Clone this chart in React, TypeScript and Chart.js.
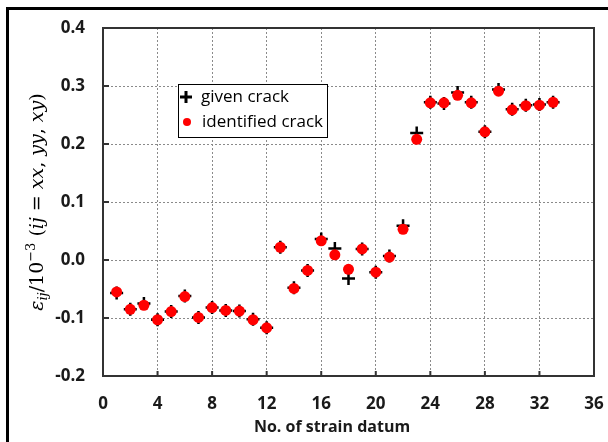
import React, { useEffect, useRef } from "react";
import { Chart, registerables } from "chart.js";

Chart.register(...registerables);

// ---- data ----
const strainNo = [
  1, 2, 3, 4, 5, 6, 7, 8, 9, 10, 11, 12, 13, 14, 15, 16, 17, 18, 19, 20, 21,
  22, 23, 24, 25, 26, 27, 28, 29, 30, 31, 32, 33,
];
const givenCrack = [
  -0.057, -0.085, -0.075, -0.103, -0.089, -0.062, -0.099, -0.082, -0.087,
  -0.088, -0.102, -0.117, 0.022, -0.048, -0.018, 0.036, 0.02, -0.032, 0.019,
  -0.021, 0.007, 0.059, 0.219, 0.272, 0.27, 0.289, 0.272, 0.221, 0.294, 0.26,
  0.267, 0.268, 0.272,
];
const identifiedCrack = [
  -0.055, -0.085, -0.078, -0.103, -0.089, -0.063, -0.099, -0.082, -0.087,
  -0.088, -0.103, -0.117, 0.022, -0.049, -0.018, 0.033, 0.009, -0.016, 0.019,
  -0.021, 0.005, 0.053, 0.208, 0.271, 0.271, 0.284, 0.271, 0.221, 0.291, 0.259,
  0.266, 0.267, 0.272,
];
const xTicks = [0, 4, 8, 12, 16, 20, 24, 28, 32, 36];
const yTicks = [-0.2, -0.1, 0.0, 0.1, 0.2, 0.3, 0.4];
const legendLabels = ["given crack", "identified crack"];
const xTitle = "No. of strain datum";

const SANS = "'Open Sans', 'Noto Sans', sans-serif";
const SERIF = "'DejaVu Serif', serif";

const decorPlugin = {
  id: "decor",
  beforeDraw(chart: any) {
    const { ctx, width, height } = chart;
    ctx.save();
    ctx.fillStyle = "#ffffff";
    ctx.fillRect(0, 0, width, height);
    ctx.fillStyle = "#000000";
    ctx.fillRect(6, 7, width - 6, 3);
    ctx.fillRect(6, 7, 3, height - 7);
    ctx.restore();
  },
  beforeDatasetsDraw(chart: any) {
    const { ctx, chartArea, scales } = chart;
    const { left, right, top, bottom } = chartArea;
    ctx.save();
    ctx.strokeStyle = "#333333";
    ctx.lineWidth = 2;
    ctx.strokeRect(left, top, right - left, bottom - top);
    ctx.beginPath();
    xTicks.forEach((v) => {
      const px = scales.x.getPixelForValue(v);
      ctx.moveTo(px, bottom);
      ctx.lineTo(px, bottom - 5);
    });
    yTicks.forEach((v) => {
      const py = scales.y.getPixelForValue(v);
      ctx.moveTo(left, py);
      ctx.lineTo(left + 6, py);
    });
    ctx.stroke();
    ctx.restore();
  },
  afterDraw(chart: any) {
    const { ctx, chartArea } = chart;
    ctx.save();
    // x title
    ctx.fillStyle = "#1a1a1a";
    ctx.font = `bold 16px ${SANS}`;
    ctx.textAlign = "center";
    ctx.textBaseline = "middle";
    ctx.fillText(xTitle, 332, 427);

    // y title (rotated, mixed fonts)
    const big = 19;
    const small = 13;
    const pieces = [
      { t: "ε", f: `italic ${big}px ${SERIF}`, dy: 0 },
      { t: "ij", f: `italic ${small}px ${SERIF}`, dy: 4 },
      { t: "/10", f: `${big}px ${SERIF}`, dy: 0 },
      { t: "−3", f: `${small}px ${SERIF}`, dy: -8 },
      { t: " (", f: `${big}px ${SERIF}`, dy: 0 },
      { t: "ij", f: `italic ${big}px ${SERIF}`, dy: 0 },
      { t: " = ", f: `${big}px ${SERIF}`, dy: 0 },
      { t: "xx", f: `italic ${big}px ${SERIF}`, dy: 0 },
      { t: ", ", f: `${big}px ${SERIF}`, dy: 0 },
      { t: "yy", f: `italic ${big}px ${SERIF}`, dy: 0 },
      { t: ", ", f: `${big}px ${SERIF}`, dy: 0 },
      { t: "xy", f: `italic ${big}px ${SERIF}`, dy: 0 },
      { t: ")", f: `${big}px ${SERIF}`, dy: 0 },
    ];
    let total = 0;
    const widths = pieces.map((p) => {
      ctx.font = p.f;
      const w = ctx.measureText(p.t).width;
      total += w;
      return w;
    });
    const cy = (chartArea.top + chartArea.bottom) / 2;
    ctx.translate(37, cy);
    ctx.rotate(-Math.PI / 2);
    ctx.textAlign = "left";
    ctx.textBaseline = "alphabetic";
    ctx.fillStyle = "#000000";
    let x = -total / 2;
    pieces.forEach((p, i) => {
      ctx.font = p.f;
      ctx.fillText(p.t, x, 6 + p.dy);
      x += widths[i];
    });
    ctx.restore();

    // legend box
    ctx.save();
    ctx.fillStyle = "#ffffff";
    ctx.fillRect(178, 84, 149, 53);
    ctx.strokeStyle = "#000000";
    ctx.lineWidth = 1;
    ctx.strokeRect(178.5, 84.5, 149, 53);
    ctx.strokeStyle = "#000000";
    ctx.lineWidth = 3;
    ctx.beginPath();
    ctx.moveTo(180, 97);
    ctx.lineTo(192, 97);
    ctx.moveTo(186, 91);
    ctx.lineTo(186, 103);
    ctx.stroke();
    ctx.fillStyle = "#ff0000";
    ctx.beginPath();
    ctx.arc(187, 122, 4, 0, Math.PI * 2);
    ctx.fill();
    ctx.fillStyle = "#000000";
    ctx.font = `17px ${SANS}`;
    ctx.textAlign = "left";
    ctx.textBaseline = "middle";
    ctx.fillText(legendLabels[0], 201, 97);
    ctx.fillText(legendLabels[1], 202, 122);
    ctx.restore();
  },
};

export default function App() {
  const ref = useRef<HTMLCanvasElement | null>(null);

  useEffect(() => {
    if (!ref.current) return;
    const tickFont = { family: SANS, size: 17, weight: "bold" as const };
    const chart = new Chart(ref.current, {
      type: "scatter",
      data: {
        datasets: [
          {
            label: legendLabels[0],
            data: strainNo.map((n, i) => ({ x: n, y: givenCrack[i] })),
            pointStyle: "cross",
            pointRadius: 6.5,
            borderColor: "#000000",
            backgroundColor: "#000000",
            borderWidth: 2.5,
            order: 1,
          },
          {
            label: legendLabels[1],
            data: strainNo.map((n, i) => ({ x: n, y: identifiedCrack[i] })),
            pointStyle: "circle",
            pointRadius: 5.5,
            borderColor: "#ff0000",
            backgroundColor: "#ff0000",
            borderWidth: 0,
            order: 0,
          },
        ],
      },
      options: {
        animation: false,
        responsive: false,
        layout: { padding: { left: 0, top: 28, right: 14, bottom: 0 } },
        plugins: {
          legend: { display: false },
          tooltip: { enabled: false },
        },
        scales: {
          x: {
            type: "linear",
            min: 0,
            max: 36,
            afterBuildTicks: (s: any) => {
              s.ticks = xTicks.map((v) => ({ value: v }));
            },
            afterFit: (s: any) => {
              s.height = 66;
              s.paddingLeft = 0;
              s.paddingRight = 0;
              s.paddingTop = 0;
              s.paddingBottom = 0;
            },
            ticks: {
              padding: 18,
              color: "#1a1a1a",
              font: tickFont,
              maxRotation: 0,
              autoSkip: false,
            },
            grid: { color: "#8a8a8a", lineWidth: 1, drawTicks: false },
            border: { display: false, dash: [2, 2] },
          },
          y: {
            type: "linear",
            min: -0.2,
            max: 0.4,
            afterBuildTicks: (s: any) => {
              s.ticks = yTicks.map((v) => ({ value: v }));
            },
            afterFit: (s: any) => {
              s.width = 103;
              s.paddingLeft = 0;
              s.paddingRight = 0;
              s.paddingTop = 0;
              s.paddingBottom = 0;
            },
            ticks: {
              padding: 18,
              color: "#1a1a1a",
              font: tickFont,
              autoSkip: false,
              callback: (v: any) => Number(v).toFixed(1),
            },
            grid: { color: "#8a8a8a", lineWidth: 1, drawTicks: false },
            border: { display: false, dash: [2, 2] },
          },
        },
      },
      plugins: [decorPlugin],
    });
    return () => chart.destroy();
  }, []);

  return (
    <div style={{ position: "fixed", left: 0, top: 0, width: 608, height: 442 }}>
      <canvas ref={ref} width={608} height={442} style={{ display: "block" }} />
    </div>
  );
}
